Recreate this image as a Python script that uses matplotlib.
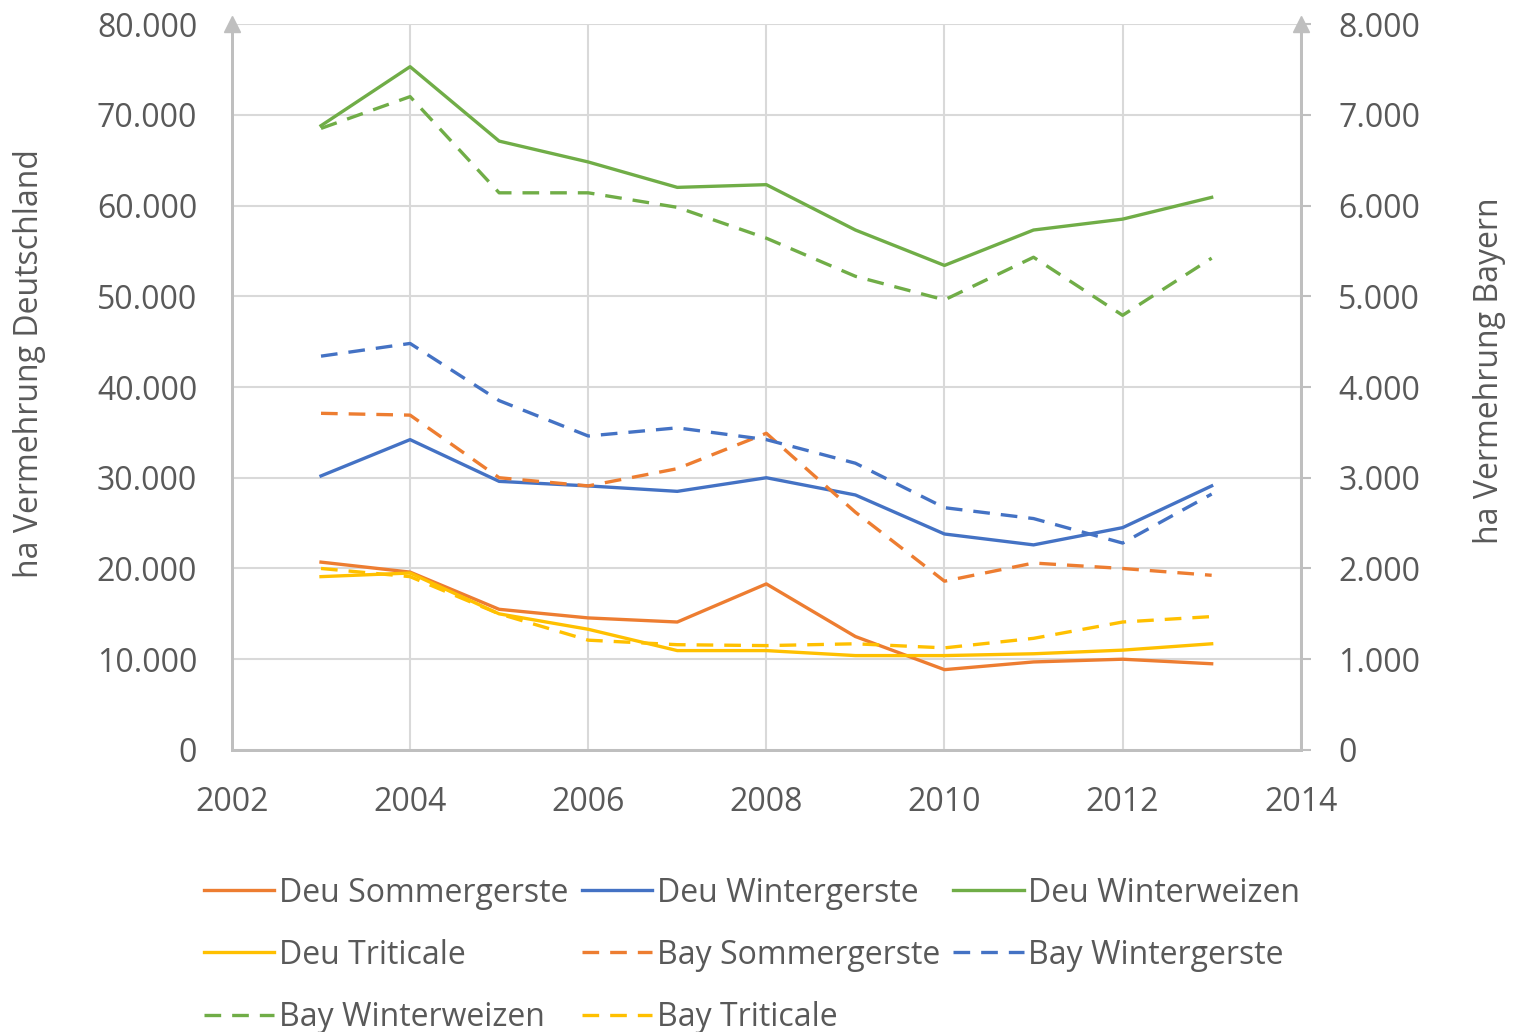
import matplotlib.pyplot as plt
from matplotlib.ticker import FuncFormatter

plt.rcParams['font.family'] = ['Open Sans', 'DejaVu Sans']

# Data
years = [2003, 2004, 2005, 2006, 2007, 2008, 2009, 2010, 2011, 2012, 2013]

deu_sommergerste = [20700, 19600, 15500, 14550, 14100, 18300, 12500, 8850, 9700, 10000, 9500]
deu_wintergerste = [30200, 34200, 29600, 29100, 28500, 30000, 28100, 23800, 22600, 24500, 29100]
deu_winterweizen = [68800, 75300, 67100, 64800, 62000, 62300, 57300, 53400, 57300, 58500, 60900]
deu_triticale = [19100, 19500, 15000, 13300, 10950, 10950, 10400, 10400, 10600, 11000, 11700]

bay_sommergerste = [3710, 3690, 3000, 2910, 3100, 3490, 2620, 1860, 2060, 2000, 1925]
bay_wintergerste = [4340, 4480, 3850, 3460, 3550, 3420, 3160, 2670, 2550, 2280, 2820]
bay_winterweizen = [6850, 7200, 6140, 6140, 5980, 5640, 5220, 4960, 5430, 4790, 5420]
bay_triticale = [2000, 1910, 1500, 1210, 1160, 1150, 1170, 1125, 1230, 1410, 1470]

ORANGE = "#ED7D31"
BLUE = "#4472C4"
GREEN = "#70AD47"
YELLOW = "#FFC000"
GRID = "#D9D9D9"
AXIS = "#BFBFBF"
TEXT = "#595959"
FS = 23

def dot_fmt(v, pos):
    return f"{int(round(v)):,}".replace(",", ".")

fig = plt.figure(figsize=(15.16, 10.32), dpi=100)
ax = fig.add_axes([0.153, 0.2733, 0.705, 0.7034])
ax2 = ax.twinx()

lw = 2.4
l1, = ax.plot(years, deu_sommergerste, color=ORANGE, lw=lw, label="Deu Sommergerste")
l2, = ax.plot(years, deu_wintergerste, color=BLUE, lw=lw, label="Deu Wintergerste")
l3, = ax.plot(years, deu_winterweizen, color=GREEN, lw=lw, label="Deu Winterweizen")
l4, = ax.plot(years, deu_triticale, color=YELLOW, lw=lw, label="Deu Triticale")

dash = (0, (5, 3.3))
l5, = ax2.plot(years, bay_sommergerste, color=ORANGE, lw=lw, ls=dash, label="Bay Sommergerste")
l6, = ax2.plot(years, bay_wintergerste, color=BLUE, lw=lw, ls=dash, label="Bay Wintergerste")
l7, = ax2.plot(years, bay_winterweizen, color=GREEN, lw=lw, ls=dash, label="Bay Winterweizen")
l8, = ax2.plot(years, bay_triticale, color=YELLOW, lw=lw, ls=dash, label="Bay Triticale")

ax.set_xlim(2002, 2014)
ax.set_ylim(0, 80000)
ax2.set_ylim(0, 8000)
ax.set_xticks(range(2002, 2015, 2))
ax.set_yticks(range(0, 80001, 10000))
ax2.set_yticks(range(0, 8001, 1000))
ax.yaxis.set_major_formatter(FuncFormatter(dot_fmt))
ax2.yaxis.set_major_formatter(FuncFormatter(dot_fmt))

ax.grid(True, color=GRID, lw=1.5)
ax.set_axisbelow(True)

for a in (ax, ax2):
    a.spines["top"].set_visible(False)
    for s in ("left", "right", "bottom"):
        a.spines[s].set_color(AXIS)
        a.spines[s].set_linewidth(2)

ax.tick_params(axis="y", length=0, labelsize=FS, labelcolor=TEXT, pad=25)
ax.tick_params(axis="x", length=0, labelsize=FS, labelcolor=TEXT, pad=26)
ax2.tick_params(axis="y", length=7, color=AXIS, width=1.5, labelsize=FS, labelcolor=TEXT, pad=20)

fig.text(30 / 1516, 0.648, "ha Vermehrung Deutschland", rotation=90, ha="center", va="center",
         fontsize=FS, color=TEXT)
fig.text(1490 / 1516, 0.641, "ha Vermehrung Bayern", rotation=90, ha="center", va="center",
         fontsize=FS, color=TEXT)

# arrow heads on the vertical axes
for xa in (0, 1):
    ax.plot([xa], [1.0], marker="^", ms=11, color=AXIS, transform=ax.transAxes,
            clip_on=False, zorder=5)

handles = [l1, l4, l7, l2, l5, l8, l3, l6]
fig.legend(handles=handles, labels=[h.get_label() for h in handles],
           loc="lower left", bbox_to_anchor=(0.1154, -0.0295), ncol=3, frameon=False,
           fontsize=FS, labelcolor=TEXT, handlelength=2.2, handletextpad=0.15,
           columnspacing=0.42, labelspacing=0.91)

fig.savefig("out.png", dpi=100)
